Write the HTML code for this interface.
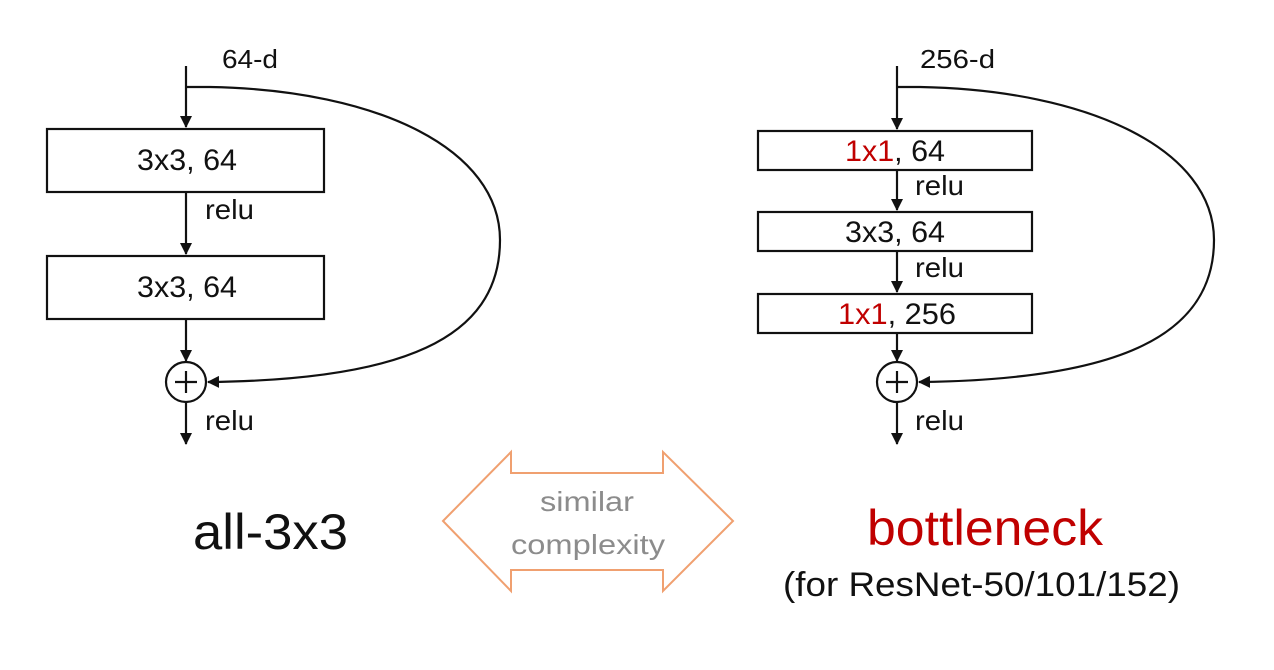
<!DOCTYPE html>
<html><head><meta charset="utf-8"><style>
html,body{margin:0;padding:0;background:#fff;}
svg{display:block;}
text{font-family:"Liberation Sans",sans-serif;}
</style></head><body>
<svg width="1274" height="670" viewBox="0 0 1274 670">
<defs>
<marker id="ah" markerWidth="12" markerHeight="12" refX="11" refY="6" orient="auto" markerUnits="userSpaceOnUse">
<path d="M0,0 L12,6 L0,12 z" fill="#111"/></marker>
</defs>
<g stroke="#111" stroke-width="2.2" fill="none">
<line x1="186" y1="66" x2="186" y2="127" marker-end="url(#ah)"/>
<rect x="47" y="129" width="277" height="63"/>
<line x1="186" y1="192" x2="186" y2="254" marker-end="url(#ah)"/>
<rect x="47" y="256" width="277" height="63"/>
<line x1="186" y1="319" x2="186" y2="361" marker-end="url(#ah)"/>
<circle cx="186" cy="382" r="20"/>
<line x1="175" y1="382" x2="197" y2="382"/><line x1="186" y1="371" x2="186" y2="393"/>
<line x1="186" y1="402" x2="186" y2="444" marker-end="url(#ah)"/>
<path d="M186,87 L210,87 C380,90 500,150 500,240 C500,340 400,380 208,382" marker-end="url(#ah)"/>
</g>
<g fill="#111" font-size="26">
<text x="222" y="68" textLength="56" lengthAdjust="spacingAndGlyphs">64-d</text>
<text x="137" y="170" font-size="30" textLength="100" lengthAdjust="spacingAndGlyphs">3x3, 64</text>
<text x="205" y="219" font-size="28" textLength="49" lengthAdjust="spacingAndGlyphs">relu</text>
<text x="137" y="297" font-size="30" textLength="100" lengthAdjust="spacingAndGlyphs">3x3, 64</text>
<text x="205" y="430" font-size="28" textLength="49" lengthAdjust="spacingAndGlyphs">relu</text>
<text x="193" y="549" font-size="50" textLength="155" lengthAdjust="spacingAndGlyphs">all-3x3</text>
</g>
<g stroke="#111" stroke-width="2.2" fill="none">
<line x1="897" y1="66" x2="897" y2="129" marker-end="url(#ah)"/>
<rect x="758" y="131" width="274" height="39"/>
<line x1="897" y1="170" x2="897" y2="210" marker-end="url(#ah)"/>
<rect x="758" y="212" width="274" height="39"/>
<line x1="897" y1="251" x2="897" y2="292" marker-end="url(#ah)"/>
<rect x="758" y="294" width="274" height="39"/>
<line x1="897" y1="333" x2="897" y2="361" marker-end="url(#ah)"/>
<circle cx="897" cy="382" r="20"/>
<line x1="886" y1="382" x2="908" y2="382"/><line x1="897" y1="371" x2="897" y2="393"/>
<line x1="897" y1="402" x2="897" y2="444" marker-end="url(#ah)"/>
<path d="M897,87 L920,87 C1090,90 1214,150 1214,240 C1214,340 1110,380 919,382" marker-end="url(#ah)"/>
</g>
<g fill="#111" font-size="26">
<text x="920" y="68" textLength="75" lengthAdjust="spacingAndGlyphs">256-d</text>
<text x="845" y="161" font-size="30" textLength="100" lengthAdjust="spacingAndGlyphs"><tspan fill="#c00000">1x1</tspan>, 64</text>
<text x="845" y="242" font-size="30" textLength="100" lengthAdjust="spacingAndGlyphs">3x3, 64</text>
<text x="838" y="324" font-size="30" textLength="118" lengthAdjust="spacingAndGlyphs"><tspan fill="#c00000">1x1</tspan>, 256</text>
<text x="915" y="195" font-size="28" textLength="49" lengthAdjust="spacingAndGlyphs">relu</text>
<text x="915" y="277" font-size="28" textLength="49" lengthAdjust="spacingAndGlyphs">relu</text>
<text x="915" y="430" font-size="28" textLength="49" lengthAdjust="spacingAndGlyphs">relu</text>
<text x="867" y="545" font-size="50" fill="#c00000" textLength="236" lengthAdjust="spacingAndGlyphs">bottleneck</text>
<text x="783" y="596" font-size="34" textLength="397" lengthAdjust="spacingAndGlyphs">(for ResNet-50/101/152)</text>
</g>
<g>
<path d="M443,521 L511,452 L511,473 L663,473 L663,452 L733,521 L663,591 L663,570 L511,570 L511,591 Z" fill="#fff" stroke="#f0a070" stroke-width="2"/>
<text x="540" y="511" font-size="28" fill="#8c8c8c" textLength="94" lengthAdjust="spacingAndGlyphs">similar</text>
<text x="511" y="554" font-size="28" fill="#8c8c8c" textLength="154" lengthAdjust="spacingAndGlyphs">complexity</text>
</g>
</svg>
</body></html>
